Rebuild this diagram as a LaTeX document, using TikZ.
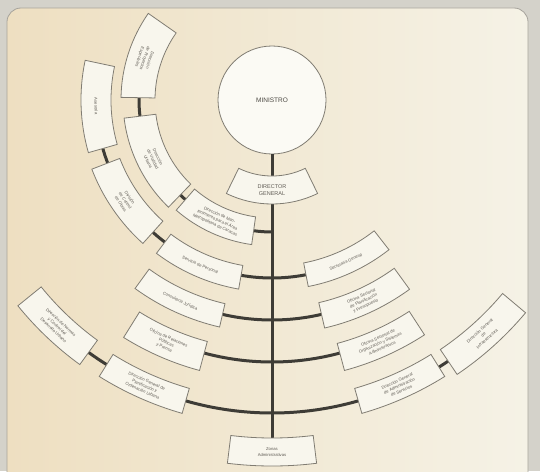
\documentclass[tikz,border=0pt]{standalone}
\usepackage{fontspec}
\setmainfont{Liberation Sans}
\definecolor{paper}{RGB}{245,242,230}
\definecolor{paperwarm}{RGB}{238,223,193}
\definecolor{outside}{RGB}{212,210,202}
\definecolor{boxfill}{RGB}{248,246,237}
\definecolor{boxedge}{RGB}{128,124,114}
\definecolor{linkcol}{RGB}{62,60,54}
\definecolor{inkcol}{RGB}{95,91,84}

\begin{document}
\begin{tikzpicture}[x=1pt,y=1pt,
  boxline/.style={draw=boxedge,line width=0.8pt,fill=boxfill},
  boxtext/.style={text=inkcol,font=\fontsize{4.2}{5.4}\selectfont,align=center,inner sep=0pt},
  link/.style={draw=linkcol,line width=3pt}]

\useasboundingbox (-272,-371) rectangle (268,100);
\clip (-272,-371) rectangle (268,100);
\fill[outside] (-272,-371) rectangle (268,100);
\shadedraw[left color=paperwarm,right color=paper,draw=boxedge!70,line width=0.8pt,rounded corners=14pt] (-265,92) rectangle (256,-390);

% trunk
\node[circle,draw=boxedge,line width=0.8pt,fill=boxfill!60!white,minimum size=108pt,inner sep=0pt,
  text=inkcol!80!black,font=\fontsize{6.5}{7}\selectfont] (ministro) at (0,0) {MINISTRO};
\coordinate (zonastop) at (270:338);
\draw[link] (ministro.south) -- (zonastop);

% links along the rings
\foreach \rad/\ta/\tb in {132/262/270, 132/226/229, 133/179/187,
  176/196/201, 178/228/233, 178/260/281, 220/257/283,
  262/255/285, 312/234/238, 313/254/286, 315/302/304}
  \draw[link] (\ta:\rad) arc[start angle=\ta,end angle=\tb,radius=\rad];

% director
\draw[boxline] (244:76) arc[start angle=244,end angle=296,radius=76] -- (296:104)
  arc[start angle=296,end angle=244,radius=104] -- cycle;
\node[boxtext,font=\fontsize{5.5}{6.5}\selectfont] (director) at (270:90) {DIRECTOR\\GENERAL};

% boxes
\foreach \nm/\ta/\tb/\rad/\w/\txt in {
  proyectos/145/179/134/17/{Dirección\\de Proyectos\\Especiales},
  vialidad/187/226/133/16/{Dirección\\de Vialidad\\Urbana},
  mantenimiento/229/262/132/14/{Dirección de Man-\\tenimiento para el Área\\Metropolitana de Caracas},
  asesoria/168/196/176/15/{Asesoría},
  control/201/228/178/15/{División\\de Control\\de Obras},
  personal/233/260/180/12/{Servicio de Personal},
  secretaria/281/308/178/12/{Secretaría General},
  juridica/234/257/221/12/{Consultoría Jurídica},
  planificacion/283/306/221/13/{Oficina Sectorial\\de Planificación\\y Presupuesto},
  relaciones/238/255/265/15/{Oficina de Relaciones\\Públicas\\y Prensa},
  organizacion/285/303/266/14/{Oficina Sectorial de\\Organización y Sistemas\\Administrativos},
  normas/219/234/312/15/{Dirección de Normas\\y Control del\\Desarrollo Urbano},
  ordenacion/238/254/313/13/{Dirección General de\\Planificación y\\Ordenación Urbana},
  administracion/286/302/313/13/{Dirección General\\de Administración\\de Servicios},
  infraestructura/304/320/316/15/{Dirección General\\de\\Infraestructura},
  zonas/263/277/352/14/{Zonas\\Administrativas}}{
  \pgfmathsetmacro\am{(\ta+\tb)/2}
  \draw[boxline] (\ta:{\rad-\w}) arc[start angle=\ta,end angle=\tb,radius={\rad-\w}]
    -- (\tb:{\rad+\w}) arc[start angle=\tb,end angle=\ta,radius={\rad+\w}] -- cycle;
  \node[boxtext,rotate=\am+90] (\nm) at (\am:\rad) {\txt};
}

\end{tikzpicture}
\end{document}
